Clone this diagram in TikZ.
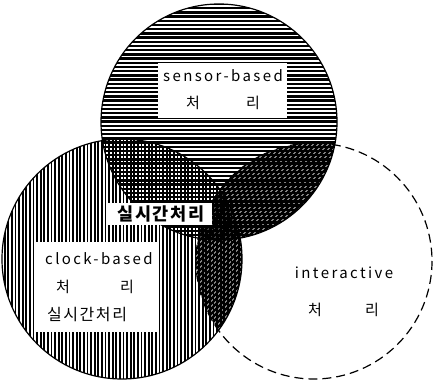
\documentclass[tikz,border=0pt]{standalone}
\usepackage{fontspec}
\setmainfont{Noto Sans CJK KR}
\newfontfamily\latf[LetterSpace=16]{Noto Sans CJK KR}
\newfontfamily\hanf[LetterSpace=10]{Noto Sans CJK KR}
\usetikzlibrary{positioning}

\begin{document}
\begin{tikzpicture}[x=1pt,y=-1pt]
\tikzset{
 hl/.style={line width=2.3pt},
 vl/.style={line width=1.8pt},
 dl/.style={line width=2.6pt},
 rim/.style={line width=1.2pt},
 box/.style={fill=white,inner sep=0pt,anchor=north west},
 lab/.style={inner sep=0pt,font=\latf\fontsize{15}{15}\selectfont},
 han/.style={inner sep=0pt,font=\fontsize{15}{15}\selectfont},
 big/.style={inner sep=0pt,font=\hanf\bfseries\fontsize{17.5}{17.5}\selectfont}
}
\useasboundingbox (0,0) rectangle (434,382);
\coordinate (cs) at (219,122);
\coordinate (cc) at (122,259);
\coordinate (ci) at (314,261);
% sensor-based
\begin{scope}
\clip (cs) circle (118);
\foreach \i in {0,...,57} \draw[hl] (90,{4+\i*4.2}) -- (350,{4+\i*4.2});
\end{scope}
% clock-based
\begin{scope}
\clip (cc) circle (120);
\foreach \i in {0,...,70} \draw[vl] ({1+\i*3.6},135) -- ({1+\i*3.6},382);
\end{scope}
% interactive, only where it overlaps
\begin{scope}
\clip (ci) circle (118);
\clip (cs) circle (118);
\foreach \i in {0,...,110} \draw[dl] ({-300+\i*5},420) -- ({120+\i*5},0);
\end{scope}
\begin{scope}
\clip (ci) circle (118);
\clip (cc) circle (120);
\foreach \i in {0,...,110} \draw[dl] ({-300+\i*5},420) -- ({120+\i*5},0);
\end{scope}
\draw[rim] (cs) circle (118);
\draw[rim] (cc) circle (120);
\draw[rim,dash pattern=on 9pt off 5pt] (ci) circle (118);
% labels
\node[box,minimum width=129pt,minimum height=55pt] (sbox) at (158,63) {};
\node[lab] (stxt) at (223,76) {sensor-based};
\node[han] (sch) at (193,103) {처};
\node[han] (sri) at (253,103) {리};
\node[box,minimum width=104pt,minimum height=22pt] (rbox) at (108,203) {};
\node[big] (rtxt) at (161,214) {실시간처리};
\node[box,minimum width=123pt,minimum height=90pt] (cbox) at (36,242) {};
\node[lab] (ctxt) at (99,259) {clock-based};
\node[han] (cch) at (63,287) {처};
\node[han] (cri) at (127,287) {리};
\node[han,font=\hanf\fontsize{16}{16}\selectfont] (crt) at (87,315) {실시간처리};
\node[lab] (itxt) at (344,273) {interactive};
\node[han] (ich) at (315,310) {처};
\node[han] (iri) at (372,310) {리};
\end{tikzpicture}
\end{document}
